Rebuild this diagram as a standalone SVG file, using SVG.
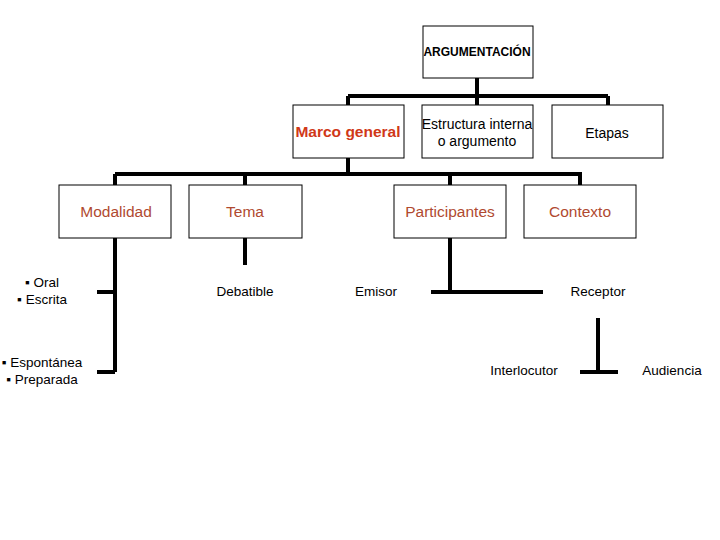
<svg xmlns="http://www.w3.org/2000/svg" width="720" height="540" viewBox="0 0 720 540">
<style>
.box{fill:#fff;stroke:#000;stroke-width:1}
.ln{stroke:#000;stroke-width:4;fill:none}
text{font-family:"Liberation Sans",Arial,sans-serif;text-anchor:middle}
.t{font-size:14px;fill:#000}
.s{font-size:15.5px;fill:#B04A30}
.b{font-size:13.5px;fill:#000}
</style>
<rect width="720" height="540" fill="#fff"/>
<g id="connectors">
<path class="ln" d="M477,78V96M348,96H608M348,96V105M477,96V105M608,96V105"/>
<path class="ln" d="M348,158V174M115,174H582M115,174V185M245,174V185M450,174V185M580,174V185"/>
<path class="ln" d="M115,238V372M97,292H115M97,372H115"/>
<path class="ln" d="M245,238V265"/>
<path class="ln" d="M450,238V292M431,292H543"/>
<path class="ln" d="M598,318V372M580,372H618"/>
</g>
<g id="argumentacion"><rect class="box" x="423" y="26" width="110" height="52"/><text x="477" y="56" font-size="12" font-weight="bold">ARGUMENTACIÓN</text></g>
<g id="marco"><rect class="box" x="293" y="105" width="111" height="53"/><text x="348" y="137" font-size="15.5" font-weight="bold" fill="#D03818">Marco general</text></g>
<g id="estructura"><rect class="box" x="422" y="105" width="111" height="53"/><text class="t" x="477" y="129">Estructura interna</text><text class="t" x="477" y="146">o argumento</text></g>
<g id="etapas"><rect class="box" x="552" y="105" width="111" height="53"/><text class="t" x="607" y="138">Etapas</text></g>
<g id="modalidad"><rect class="box" x="59" y="185" width="112" height="53"/><text class="s" x="116" y="217">Modalidad</text></g>
<g id="tema"><rect class="box" x="189" y="185" width="113" height="53"/><text class="s" x="245" y="217">Tema</text></g>
<g id="participantes"><rect class="box" x="394" y="185" width="112" height="53"/><text class="s" x="450" y="217">Participantes</text></g>
<g id="contexto"><rect class="box" x="524" y="185" width="112" height="53"/><text class="s" x="580" y="217">Contexto</text></g>
<g id="oral"><text class="b" x="42" y="287">▪ Oral</text><text class="b" x="42" y="304">▪ Escrita</text></g>
<g id="espontanea"><text class="b" x="42" y="367">▪ Espontánea</text><text class="b" x="42" y="384">▪ Preparada</text></g>
<g id="debatible"><text class="b" x="245" y="296">Debatible</text></g>
<g id="emisor"><text class="b" x="376" y="296">Emisor</text></g>
<g id="receptor"><text class="b" x="598" y="296">Receptor</text></g>
<g id="interlocutor"><text class="b" x="524" y="375">Interlocutor</text></g>
<g id="audiencia"><text class="b" x="672" y="375">Audiencia</text></g>
</svg>
